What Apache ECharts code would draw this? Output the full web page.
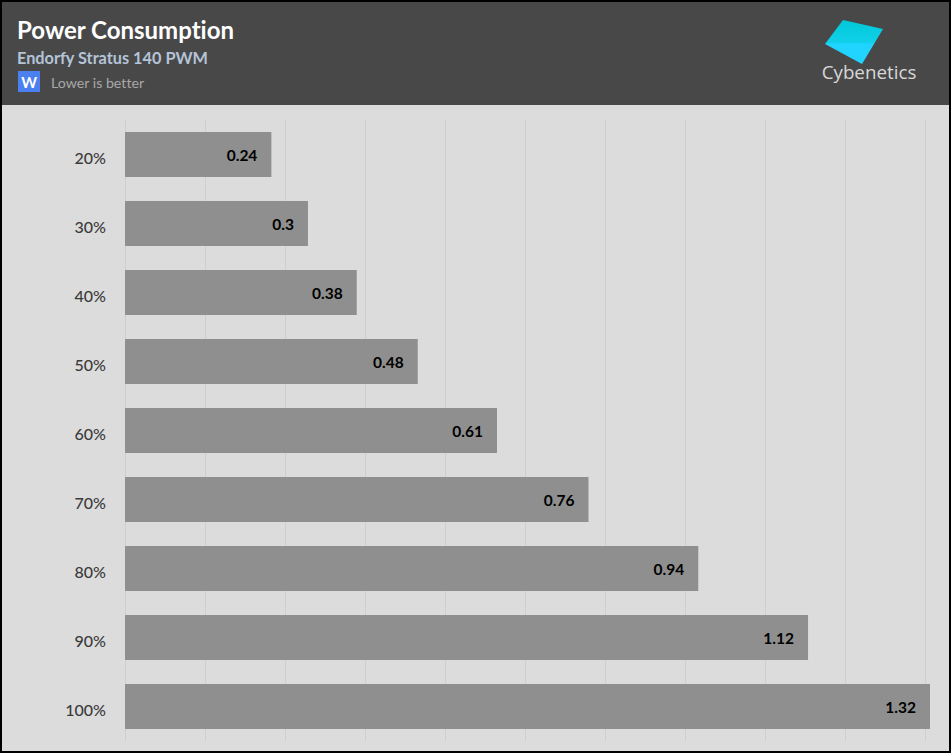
<!DOCTYPE html>
<html><head><meta charset="utf-8">
<style>html,body{margin:0;padding:0;background:#dcdcdc}#c{width:951px;height:753px}text{font-variant-ligatures:none !important}</style>
<script src="https://cdn.jsdelivr.net/npm/echarts@6/dist/echarts.min.js"></script>
</head><body><div id="c"></div>
<script>
const categories = ['20%','30%','40%','50%','60%','70%','80%','90%','100%'];
const values = [0.24,0.3,0.38,0.48,0.61,0.76,0.94,1.12,1.32];
const titleText = 'Power Consumption';
const subtitleText = 'Endorfy Stratus 140 PWM';
const unitText = 'W';
const noteText = 'Lower is better';
const brandText = 'Cybenetics';
const font = 'Lato';
const chart = echarts.init(document.getElementById('c'), null, {renderer:'svg', width:951, height:753});
chart.setOption({
  animation:false,
  backgroundColor:'#dcdcdc',
  grid:{left:125, top:120, width:820, height:621, containLabel:false},
  xAxis:{type:'value', min:0, max:1.3446, interval:0.13118,
    axisLine:{show:false}, axisTick:{show:false}, axisLabel:{show:false},
    splitLine:{show:true, showMaxLine:false, lineStyle:{color:'#cfcfcf', width:1}}},
  yAxis:{type:'category', inverse:true, data:categories,
    axisLine:{show:false}, axisTick:{show:false},
    axisLabel:{margin:19, color:'#3a3a3a', fontFamily:font, fontSize:16, fontWeight:500, verticalAlign:'top', lineHeight:5}},
  series:[{type:'bar', data:values, barWidth:45, clip:false,
    itemStyle:{color:'#8f8f8f'},
    label:{show:true, position:'insideRight', distance:14, color:'#000', fontFamily:font, fontSize:15.5, fontWeight:'bold', padding:[6,0,0,0]}}],
  graphic:[
    {type:'rect', z:10, silent:true, shape:{x:0,y:0,width:951,height:105}, style:{fill:'#484848'}},
    {type:'text', z:11, silent:true, x:17, y:17, style:{text:titleText, fill:'#fff', font:'bold 24px '+font}},
    {type:'text', z:11, silent:true, x:17, y:49, style:{text:subtitleText, fill:'#b4c4d8', font:'bold 16.3px '+font}},
    {type:'rect', z:11, silent:true, shape:{x:18,y:71,width:22,height:21}, style:{fill:'#4a80f0'}},
    {type:'text', z:12, silent:true, x:29, y:82, style:{text:unitText, fill:'#fff', font:'bold 15px '+font, align:'center', verticalAlign:'middle'}},
    {type:'text', z:11, silent:true, x:51, y:75, style:{text:noteText, fill:'#a8a8a8', font:'14.2px '+font}},
    {type:'polygon', z:11, silent:true, shape:{points:[[843,20],[883,29],[862,64],[825,44]]},
      style:{fill:new echarts.graphic.LinearGradient(0,0,0,1,[{offset:0,color:'#00c8d8'},{offset:0.5,color:'#10d0e8'},{offset:0.55,color:'#20d4ff'},{offset:1,color:'#20d4ff'}])}},
    {type:'text', z:11, silent:true, x:869, y:72, style:{text:brandText, fill:'#d8d8d8', font:'18.8px "Open Sans"', align:'center', verticalAlign:'middle'}},
    {type:'rect', z:20, silent:true, shape:{x:1,y:1,width:949,height:751}, style:{fill:'none', stroke:'#000', lineWidth:2}}
  ]
});
</script></body></html>
